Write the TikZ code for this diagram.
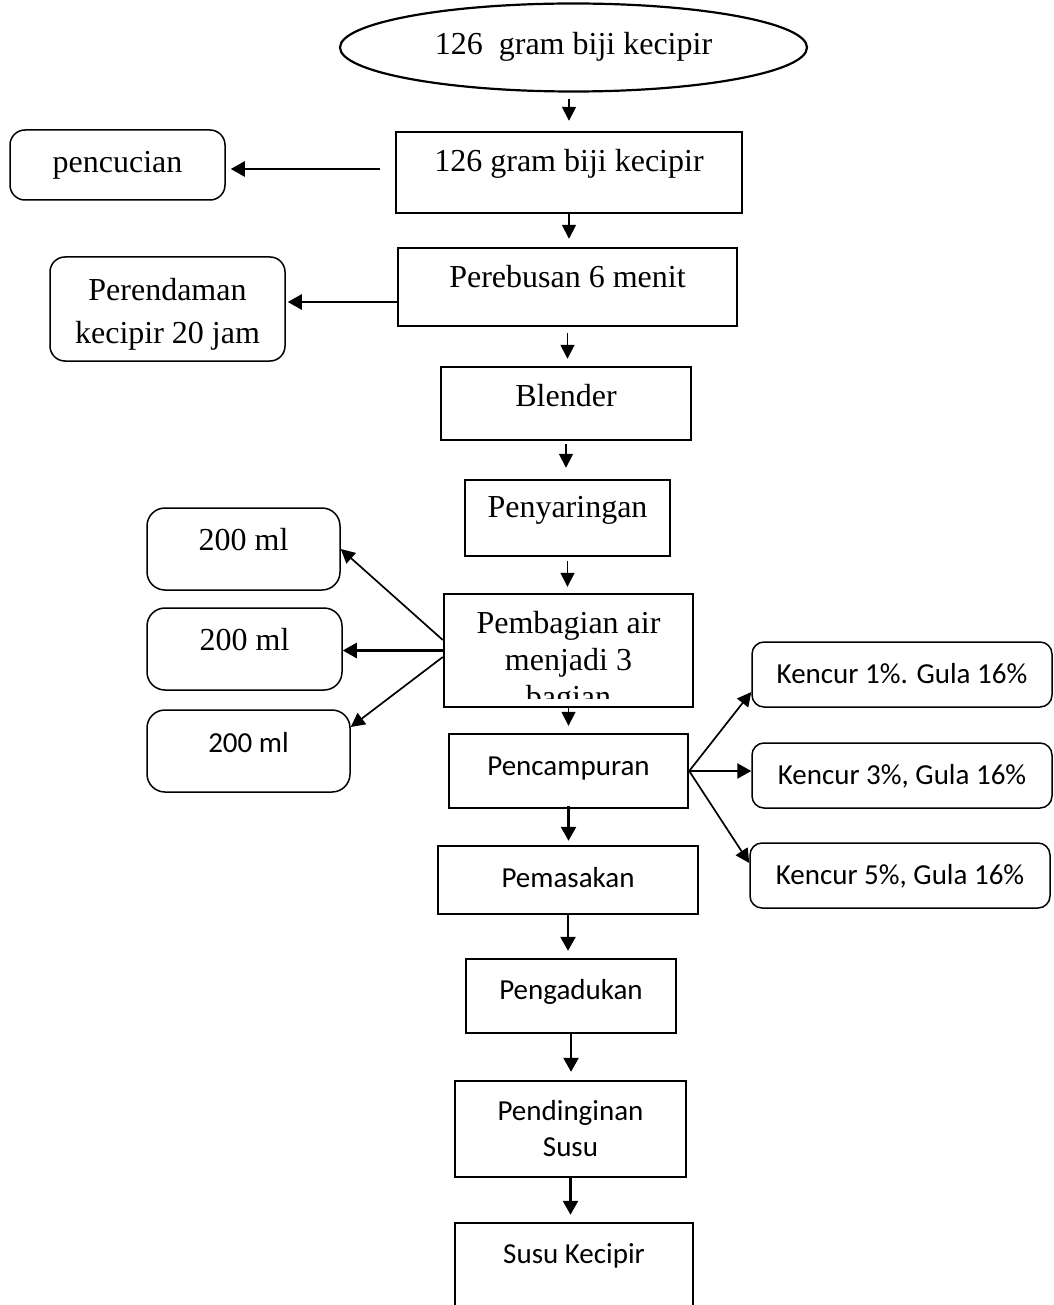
\documentclass[tikz,border=0pt]{standalone}
\usepackage{fontspec}
\setmainfont{Liberation Serif}
\newfontfamily\calibri{Carlito}
\usetikzlibrary{arrows.meta,shapes.geometric}
\tikzset{>=stealth}
\tikzset{
  proc/.style={draw,line width=2.4pt,inner sep=0pt,font=\fontsize{32}{37}\selectfont},
  side/.style={draw,line width=1.5pt,rounded corners=15pt,inner sep=0pt,font=\fontsize{32}{43}\selectfont},
  sans/.style={font=\calibri\fontsize{29}{36}\selectfont},
  dims/.style n args={4}{minimum width=#1,minimum height=#2,text height=#3,text depth=#4},
  arr/.style={-{Triangle[length=14pt,width=14pt]},line width=1.7pt},
  arrb/.style={-{Triangle[length=14pt,width=15pt]},line width=2.5pt}
}

\begin{document}
\begin{tikzpicture}[x=1pt,y=-1pt]
\useasboundingbox (0,0) rectangle (1053,1305);
\node[ellipse,draw,line width=2.2pt,inner sep=0pt,minimum width=467pt,minimum height=88pt,
  text height=27pt,text depth=13pt,font=\fontsize{32}{37}\selectfont] (start) at (573.5,47.5) {126\ \ gram biji kecipir};
\node[proc,dims={346pt}{81pt}{40pt}{41pt}] (seed) at (569,172.5) {126 gram biji kecipir};
\node[side,dims={215pt}{70pt}{43pt}{27pt}] (wash) at (117.5,165) {pencucian};
\node[proc,dims={339pt}{78pt}{40pt}{38pt}] (boil) at (567.5,287) {Perebusan 6 menit};
\node[side,align=center,dims={235pt}{104pt}{86pt}{18pt}] (soak) at (167.5,309) {Perendaman\\kecipir 20 jam};
\node[proc,dims={250pt}{73pt}{39pt}{34pt}] (blend) at (566,403.5) {Blender};
\node[proc,dims={205pt}{76pt}{37pt}{39pt}] (filter) at (567.5,518) {Penyaringan};
\node[proc,minimum width=249pt,minimum height=113pt] (split) at (568.5,650.5) {};
\begin{scope}
\clip (split.north west) rectangle ([yshift=10pt]split.south east);
\node[align=center,anchor=base,inner sep=0pt,font=\fontsize{32}{37}\selectfont] (splittext) at (568.5,707) {Pembagian air\\menjadi 3\\bagian};
\end{scope}
\node[side,rounded corners=18pt,dims={193pt}{82pt}{42pt}{40pt}] (partA) at (243.5,549) {200 ml};
\node[side,rounded corners=18pt,dims={195pt}{82pt}{42pt}{40pt}] (partB) at (244.5,649) {200 ml};
\node[side,sans,rounded corners=18pt,dims={203pt}{82pt}{42pt}{40pt}] (partC) at (248.5,751) {200 ml};
\node[proc,sans,dims={239pt}{74pt}{41pt}{33pt}] (mix) at (568.5,771) {Pencampuran};
\node[side,sans,rounded corners=12pt,dims={300pt}{65pt}{41pt}{24pt}] (kA) at (902,674.5) {Kencur 1\%. Gula 16\%};
\node[side,sans,rounded corners=12pt,dims={300pt}{65pt}{41pt}{24pt}] (kB) at (902,775.5) {Kencur 3\%, Gula 16\%};
\node[side,sans,rounded corners=12pt,dims={300pt}{65pt}{41pt}{24pt}] (kC) at (900,875.5) {Kencur 5\%, Gula 16\%};
\node[proc,sans,dims={260pt}{68pt}{41pt}{27pt}] (cook) at (568,880) {Pemasakan};
\node[proc,sans,dims={210pt}{74pt}{40pt}{34pt}] (stir) at (571,996) {Pengadukan};
\node[proc,sans,align=center,dims={231pt}{96pt}{75pt}{21pt}] (cool) at (570.5,1129) {Pendinginan\\Susu};
\node[sans,inner sep=0pt,dims={238pt}{82pt}{40pt}{42pt}] (milk) at (574,1264) {Susu Kecipir};
\draw[line width=2.4pt] (milk.south west) |- (milk.north) -| (milk.south east);
\draw[arr,shorten <=6pt,shorten >=10pt] (seed.north |- start.south) -- (seed.north);
\draw[arr,shorten >=8pt] (seed.south) -- (seed.south |- boil.north);
\draw[arr,shorten <=6pt,shorten >=7pt] (boil.south) -- (boil.south |- blend.north);
\draw[arr,shorten <=3pt,shorten >=11pt] (blend.south) -- (blend.south |- filter.north);
\draw[arr,shorten <=4pt,shorten >=6pt] (filter.south) -- (filter.south |- split.north);
\draw[arr,shorten >=7pt] (split.south) -- (split.south |- mix.north);
\draw[arrb,shorten <=-3pt,shorten >=4pt] (mix.south) -- (mix.south |- cook.north);
\draw[arrb,shorten >=7pt] (cook.south) -- (cook.south |- stir.north);
\draw[arrb,shorten >=8pt] (stir.south) -- (stir.south |- cool.north);
\draw[arrb,shorten >=8pt] (cool.south) -- (cool.south |- milk.north);
\draw[arrb,shorten <=15pt,shorten >=5pt] ([yshift=3.5pt]seed.west) -- ([yshift=3.5pt]seed.west -| wash.east);
\draw[arrb,shorten >=2pt] ([yshift=-15pt]boil.west) -- ([yshift=-15pt]boil.west -| soak.east);
\draw[arr] ([yshift=10.5pt]split.west) -- (partA.east);
\draw[arrb] (split.west) -- (split.west -| partB.east);
\draw[arr] ([yshift=-6.5pt]split.west) -- ([yshift=24pt]partC.east);
\draw[arr] (mix.east) -- ([yshift=-17.5pt]kA.west);
\draw[arrb] (mix.east) -- (mix.east -| kB.west);
\draw[arr] (mix.east) -- ([yshift=12.5pt]kC.west);
\end{tikzpicture}
\end{document}
